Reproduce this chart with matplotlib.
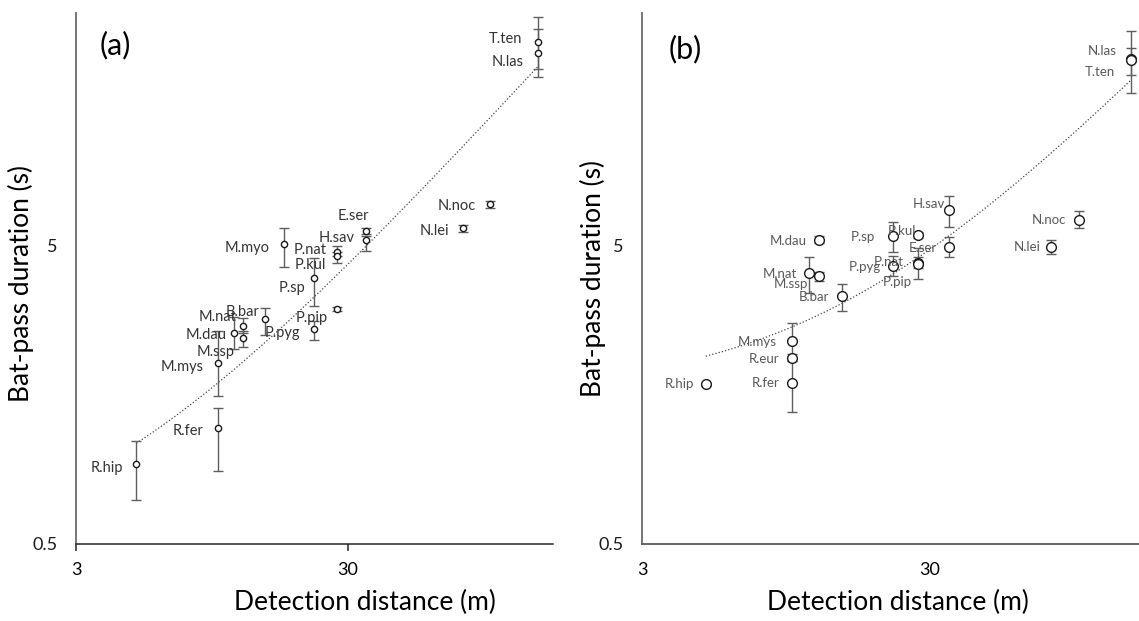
import numpy as np
import matplotlib
matplotlib.use("Agg")
import matplotlib.pyplot as plt
from matplotlib.ticker import FixedLocator, FixedFormatter, NullLocator

plt.rcParams['font.family'] = ['Lato', 'DejaVu Sans']

# ---- panel (a) data ----
species_a = ['R.hip', 'R.fer', 'M.mys', 'M.dau', 'M.nat', 'M.ssp', 'B.bar', 'M.myo',
             'P.sp', 'P.pyg', 'P.nat', 'P.kul', 'P.pip', 'H.sav', 'E.ser', 'N.lei',
             'N.noc', 'T.ten', 'N.las']
dist_a = [5, 10, 10, 11.4, 12.4, 12.4, 14.9, 17.5, 22.5, 22.5, 27.5, 27.5, 27.5,
          35, 35, 80, 100, 150, 150]
dur_a = [0.92, 1.22, 2.01, 2.54, 2.68, 2.44, 2.83, 5.03, 3.88, 2.62, 4.76, 4.59, 3.05,
         5.19, 5.57, 5.69, 6.89, 23.9, 22.0]
low_a = [0.70, 0.875, 1.555, 2.24, 2.53, 2.28, 2.50, 4.21, 3.13, 2.41, 4.60, 4.36, 3.00,
         4.78, 5.45, 5.55, 6.65, 19.5, 18.3]
high_a = [1.10, 1.42, 2.57, 2.88, 2.84, 2.57, 3.07, 5.70, 4.53, 2.78, 4.95, 4.75, 3.10,
          5.35, 5.72, 5.82, 7.05, 29.0, 26.5]

# ---- panel (b) data ----
species_b = ['R.hip', 'R.fer', 'R.eur', 'M.mys', 'M.nat', 'M.dau', 'M.ssp', 'B.bar',
             'P.sp', 'P.pyg', 'P.kul', 'P.nat', 'P.pip', 'H.sav', 'E.ser', 'N.lei',
             'N.noc', 'N.las', 'T.ten']
dist_b = [5, 10, 10, 10, 11.4, 12.4, 12.4, 14.9, 22.4, 22.4, 27.3, 27.3, 27.3,
          35, 35, 79.4, 99.2, 150, 150]
dur_b = [1.71, 1.73, 2.10, 2.39, 4.02, 5.22, 3.93, 3.37, 5.38, 4.27, 5.41, 4.37, 4.33,
         6.57, 4.94, 4.94, 6.09, 21.1, 20.8]
low_b = [1.69, 1.38, 2.04, 2.10, 3.45, 5.08, 3.78, 3.01, 4.75, 3.95, 5.28, 4.20, 3.86,
         5.75, 4.56, 4.68, 5.70, 18.6, 16.2]
high_b = [1.73, 2.05, 2.16, 2.75, 4.58, 5.36, 4.08, 3.71, 5.97, 4.60, 5.55, 4.55, 4.89,
          7.33, 5.31, 5.20, 6.53, 26.2, 22.9]

# label offsets (pixels, right edge of text relative to point; +y = down)
offs_a = [(-13, 4), (-15, 3), (-14, 4), (-7, 2), (-7, -9), (-9, 14), (-6, -7), (-14, 4),
          (-8, 10), (-13, 4), (-11, -2), (-11, 9), (-10, 9), (-11, -2), (3, -15),
          (-14, 3), (-14, 2), (-15, -3), (-14, 9)]
offs_b = [(-12, 0), (-13, 0), (-13, 1), (-16, 1), (-12, 1), (-13, 1), (-11, 8), (-13, 1),
          (-18, 1), (-12, 1), (-2, -4), (-14, -1), (-6, 18), (-4, -6), (-12, 1),
          (-11, 0), (-13, 0), (-14, -8), (-16, 12)]

fig = plt.figure(figsize=(11.39, 6.21), dpi=100)
ax_a = fig.add_axes([76 / 1139, 77.5 / 621, 477 / 1139, 530.5 / 621])
ax_b = fig.add_axes([642 / 1139, 77.5 / 621, 497 / 1139, 530.5 / 621])


def draw_panel(ax, species, dist, dur, low, high, offs, msize, tcol, tsize, xmax):
    dist = np.array(dist)
    dur = np.array(dur)
    yerr = [dur - np.array(low), np.array(high) - dur]
    ax.errorbar(dist, dur, yerr=yerr, fmt='none', ecolor='#5e5e5e', elinewidth=1.0,
                capsize=3.5, capthick=1.0, zorder=2)
    ax.plot(dist, dur, 'o', ms=msize, mfc='white', mec='#1a1a1a', mew=1.0, zorder=3)
    # linear trendline
    b, a = np.polyfit(dist, dur, 1)
    xs = np.linspace(dist.min(), dist.max(), 200)
    ax.plot(xs, a + b * xs, ':', color='#444444', lw=0.9, zorder=1)
    for name, x, y, (dx, dy) in zip(species, dist, dur, offs):
        ax.annotate(name, (x, y), xytext=(dx, -dy), textcoords='offset pixels',
                    ha='right', va='center', fontsize=tsize, color=tcol)
    ax.set_xscale('log')
    ax.set_yscale('log')
    ax.set_xlim(3, xmax)
    ax.set_ylim(0.5, 30)
    ax.xaxis.set_major_locator(FixedLocator([3, 30]))
    ax.xaxis.set_major_formatter(FixedFormatter(['3', '30']))
    ax.yaxis.set_major_locator(FixedLocator([0.5, 5]))
    ax.yaxis.set_major_formatter(FixedFormatter(['0.5', '5']))
    ax.xaxis.set_minor_locator(NullLocator())
    ax.yaxis.set_minor_locator(NullLocator())
    for s in ['top', 'right']:
        ax.spines[s].set_visible(False)
    ax.tick_params(axis='y', length=0, pad=13.5, labelsize=13, labelcolor='#1a1a1a')
    ax.set_xlabel('Detection distance (m)', fontsize=19)
    ax.set_ylabel('Bat-pass duration (s)', fontsize=19)


draw_panel(ax_a, species_a, dist_a, dur_a, low_a, high_a, offs_a, 4.5, '#333333', 10.5, 171)
draw_panel(ax_b, species_b, dist_b, dur_b, low_b, high_b, offs_b, 7, '#595959', 9.5, 160)

ax_a.spines['left'].set_color('#6b6b6b')
ax_a.spines['left'].set_linewidth(1.3)
ax_a.spines['bottom'].set_color('#262626')
ax_a.spines['bottom'].set_linewidth(1.1)
ax_a.tick_params(axis='x', length=5, width=1.1, color='#262626', pad=8, labelsize=13)

ax_b.spines['left'].set_color('#6b6b6b')
ax_b.spines['left'].set_linewidth(1.3)
ax_b.spines['bottom'].set_color('#595959')
ax_b.spines['bottom'].set_linewidth(1.3)
ax_b.tick_params(axis='x', length=0, pad=13, labelsize=13)

ax_a.xaxis.set_label_coords(0.606, -0.088)
ax_b.xaxis.set_label_coords(0.515, -0.088)
ax_a.yaxis.set_label_coords(-0.088, 0.49)
ax_b.yaxis.set_label_coords(-0.072, 0.5)

ax_a.text(0.082, 0.94, '(a)', transform=ax_a.transAxes, fontsize=22, ha='center', va='center')
ax_b.text(0.088, 0.932, '(b)', transform=ax_b.transAxes, fontsize=22, ha='center', va='center')

fig.savefig('out.png', dpi=100)
